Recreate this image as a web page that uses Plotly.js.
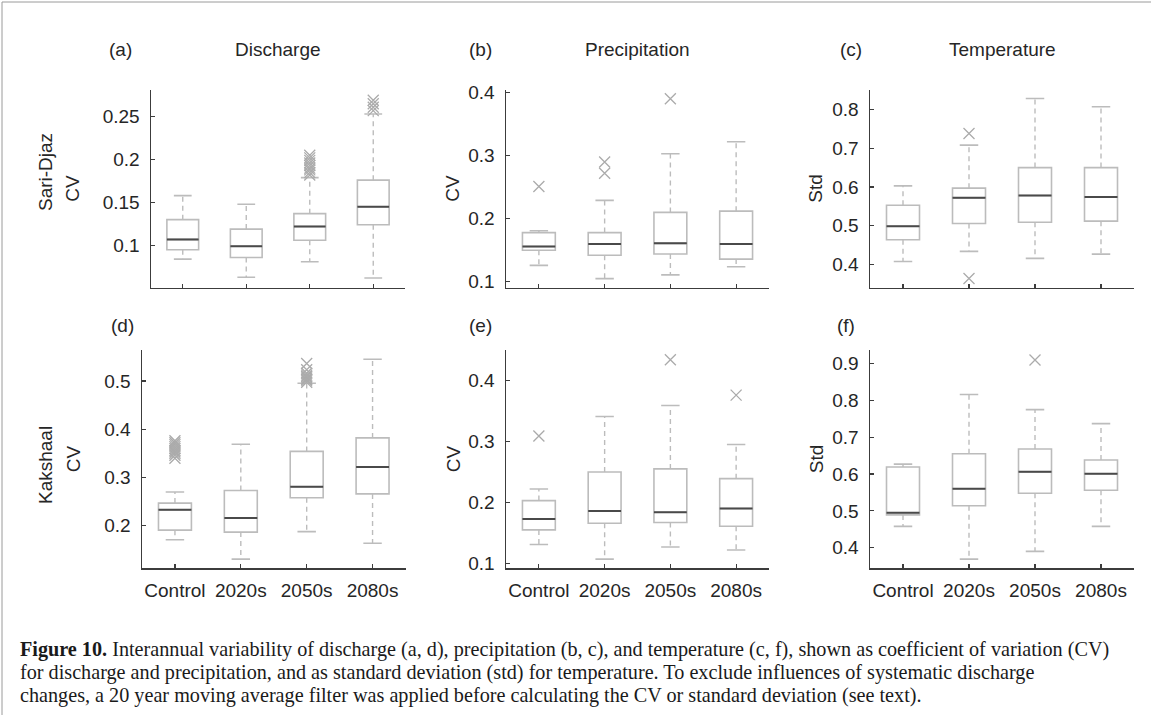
<!DOCTYPE html>
<html>
<head>
<meta charset="utf-8">
<script src="https://cdn.plot.ly/plotly-3.0.1.min.js"></script>
<style>
html,body{margin:0;padding:0;background:#fff;}
#chart{width:1153px;height:715px;}
</style>
</head>
<body>
<div id="chart"></div>
<script>
// ---------- DATA ----------
const categories = ['Control', '2020s', '2050s', '2080s'];

// (a) Discharge, Sari-Djaz (CV)
const aLower  = [0.084, 0.063, 0.081, 0.062];
const aQ1     = [0.095, 0.086, 0.106, 0.124];
const aMedian = [0.107, 0.099, 0.122, 0.145];
const aQ3     = [0.130, 0.119, 0.137, 0.176];
const aUpper  = [0.158, 0.148, 0.179, 0.253];
const aOutliers = [[], [], [0.182, 0.185, 0.188, 0.190, 0.193, 0.196, 0.199, 0.202, 0.205], [0.257, 0.261, 0.265, 0.269]];

// (b) Precipitation, Sari-Djaz (CV)
const bLower  = [0.126, 0.105, 0.111, 0.124];
const bQ1     = [0.150, 0.142, 0.144, 0.136];
const bMedian = [0.156, 0.160, 0.161, 0.160];
const bQ3     = [0.178, 0.178, 0.210, 0.212];
const bUpper  = [0.181, 0.229, 0.303, 0.322];
const bOutliers = [[0.251], [0.272, 0.290], [0.390], []];

// (c) Temperature, Sari-Djaz (Std)
const cLower  = [0.408, 0.434, 0.416, 0.427];
const cQ1     = [0.464, 0.506, 0.509, 0.512];
const cMedian = [0.499, 0.572, 0.578, 0.574];
const cQ3     = [0.553, 0.597, 0.650, 0.650];
const cUpper  = [0.603, 0.708, 0.828, 0.807];
const cOutliers = [[], [0.738, 0.364], [], []];

// (d) Discharge, Kakshaal (CV)
const dLower  = [0.171, 0.131, 0.188, 0.164];
const dQ1     = [0.191, 0.187, 0.258, 0.266];
const dMedian = [0.233, 0.216, 0.281, 0.322];
const dQ3     = [0.247, 0.273, 0.354, 0.382];
const dUpper  = [0.270, 0.369, 0.495, 0.545];
const dOutliers = [[0.340, 0.346, 0.350, 0.353, 0.356, 0.360, 0.364, 0.368, 0.372, 0.376], [], [0.497, 0.500, 0.503, 0.506, 0.509, 0.512, 0.516, 0.523, 0.536], []];

// (e) Precipitation, Kakshaal (CV)
const eLower  = [0.131, 0.107, 0.127, 0.122];
const eQ1     = [0.155, 0.166, 0.167, 0.161];
const eMedian = [0.173, 0.186, 0.184, 0.190];
const eQ3     = [0.203, 0.250, 0.255, 0.239];
const eUpper  = [0.222, 0.341, 0.359, 0.295];
const eOutliers = [[0.309], [], [0.434], [0.376]];

// (f) Temperature, Kakshaal (Std)
const fLower  = [0.458, 0.369, 0.390, 0.458];
const fQ1     = [0.489, 0.514, 0.548, 0.556];
const fMedian = [0.495, 0.560, 0.606, 0.601];
const fQ3     = [0.619, 0.655, 0.668, 0.638];
const fUpper  = [0.627, 0.816, 0.775, 0.737];
const fOutliers = [[], [], [0.910], []];

// tick values / labels
const aTicks = [0.1, 0.15, 0.2, 0.25];
const aTickText = ['0.1', '0.15', '0.2', '0.25'];
const bTicks = [0.1, 0.2, 0.3, 0.4];
const bTickText = ['0.1', '0.2', '0.3', '0.4'];
const cTicks = [0.4, 0.5, 0.6, 0.7, 0.8];
const cTickText = ['0.4', '0.5', '0.6', '0.7', '0.8'];
const dTicks = [0.2, 0.3, 0.4, 0.5];
const dTickText = ['0.2', '0.3', '0.4', '0.5'];
const eTicks = [0.1, 0.2, 0.3, 0.4];
const eTickText = ['0.1', '0.2', '0.3', '0.4'];
const fTicks = [0.4, 0.5, 0.6, 0.7, 0.8, 0.9];
const fTickText = ['0.4', '0.5', '0.6', '0.7', '0.8', '0.9'];

const columnTitles = ['Discharge', 'Precipitation', 'Temperature'];
const rowTitles = ['Sari-Djaz', 'Kakshaal'];
const panelLetters = ['(a)', '(b)', '(c)', '(d)', '(e)', '(f)'];
const yTitles = ['CV', 'CV', 'Std', 'CV', 'CV', 'Std'];
const captionLines = [
  '<b>Figure 10.</b> Interannual variability of discharge (a, d), precipitation (b, c), and temperature (c, f), shown as coefficient of variation (CV)',
  'for discharge and precipitation, and as standard deviation (std) for temperature. To exclude influences of systematic discharge',
  'changes, a 20 year moving average filter was applied before calculating the CV or standard deviation (see text).'
];

// ---------- LAYOUT HELPERS ----------
const W = 1153, H = 715;
const px = v => v / W;
const py = v => 1 - v / H;

const panels = [
  {lo: aLower, q1: aQ1, med: aMedian, q3: aQ3, up: aUpper, out: aOutliers, ticks: aTicks, tt: aTickText, range: [0.051, 0.281], x: [151, 405], y: [90, 287.5]},
  {lo: bLower, q1: bQ1, med: bMedian, q3: bQ3, up: bUpper, out: bOutliers, ticks: bTicks, tt: bTickText, range: [0.091, 0.404], x: [506, 769], y: [90, 287.5]},
  {lo: cLower, q1: cQ1, med: cMedian, q3: cQ3, up: cUpper, out: cOutliers, ticks: cTicks, tt: cTickText, range: [0.341, 0.850], x: [870, 1134], y: [90, 287.5]},
  {lo: dLower, q1: dQ1, med: dMedian, q3: dQ3, up: dUpper, out: dOutliers, ticks: dTicks, tt: dTickText, range: [0.112, 0.564], x: [142, 405.5], y: [350, 568.3]},
  {lo: eLower, q1: eQ1, med: eMedian, q3: eQ3, up: eUpper, out: eOutliers, ticks: eTicks, tt: eTickText, range: [0.092, 0.450], x: [506, 769], y: [350, 568.3]},
  {lo: fLower, q1: fQ1, med: fMedian, q3: fQ3, up: fUpper, out: fOutliers, ticks: fTicks, tt: fTickText, range: [0.344, 0.937], x: [870, 1134], y: [350, 568.3]}
];

const BOX_COLOR = '#bcbcbc';
const MED_COLOR = '#4a4a4a';
const OUT_COLOR = '#ababab';
const AXIS_COLOR = '#3c3c3c';
const TEXT_COLOR = '#262626';
const FONT = 'Liberation Sans, Arial, sans-serif';
const HALF_BOX = 0.25, HALF_CAP = 0.14;
const catPos = categories.map((c, i) => i + 1);

const traces = [];
const layout = {
  width: W, height: H,
  margin: {l: 0, r: 0, t: 0, b: 0},
  paper_bgcolor: '#ffffff',
  plot_bgcolor: 'rgba(0,0,0,0)',
  showlegend: false,
  hovermode: false,
  font: {family: FONT, color: TEXT_COLOR, size: 19},
  annotations: [],
  shapes: []
};

panels.forEach((p, k) => {
  const sfx = k === 0 ? '' : String(k + 1);
  const xa = 'x' + sfx, ya = 'y' + sfx;
  const rowIdx = k < 3 ? 0 : 1;

  // boxes (quartiles) drawn by the box trace
  traces.push({
    type: 'box', xaxis: xa, yaxis: ya,
    x: catPos, q1: p.q1, median: p.med, q3: p.q3,
    lowerfence: p.q1, upperfence: p.q3,
    width: 2 * HALF_BOX, whiskerwidth: 0, boxpoints: false,
    fillcolor: 'rgba(255,255,255,0)',
    line: {color: BOX_COLOR, width: 1.6}
  });

  // dashed whiskers
  const wx = [], wy = [];
  catPos.forEach((c, i) => {
    wx.push(c, c, null, c, c, null);
    wy.push(p.q3[i], p.up[i], null, p.q1[i], p.lo[i], null);
  });
  traces.push({type: 'scatter', mode: 'lines', xaxis: xa, yaxis: ya, x: wx, y: wy,
    line: {color: BOX_COLOR, width: 1.4, dash: '5px,4px'}, connectgaps: false});

  // whisker caps
  const cx = [], cy = [];
  catPos.forEach((c, i) => {
    cx.push(c - HALF_CAP, c + HALF_CAP, null, c - HALF_CAP, c + HALF_CAP, null);
    cy.push(p.up[i], p.up[i], null, p.lo[i], p.lo[i], null);
  });
  traces.push({type: 'scatter', mode: 'lines', xaxis: xa, yaxis: ya, x: cx, y: cy,
    line: {color: BOX_COLOR, width: 1.6}, connectgaps: false});

  // medians
  const mx = [], my = [];
  catPos.forEach((c, i) => {
    mx.push(c - HALF_BOX, c + HALF_BOX, null);
    my.push(p.med[i], p.med[i], null);
  });
  traces.push({type: 'scatter', mode: 'lines', xaxis: xa, yaxis: ya, x: mx, y: my,
    line: {color: MED_COLOR, width: 2}, connectgaps: false});

  // outliers
  const ox = [], oy = [];
  p.out.forEach((arr, i) => arr.forEach(v => { ox.push(catPos[i]); oy.push(v); }));
  traces.push({type: 'scatter', mode: 'markers', xaxis: xa, yaxis: ya, x: ox, y: oy,
    marker: {symbol: 'x-thin-open', size: 11, color: OUT_COLOR, line: {color: OUT_COLOR, width: 1.3}}});

  const axCommon = {
    showline: true, linecolor: AXIS_COLOR, linewidth: 1.5,
    ticks: 'inside', ticklen: 4, tickwidth: 1.2, tickcolor: AXIS_COLOR,
    showgrid: false, zeroline: false, fixedrange: true,
    tickfont: {family: FONT, size: 19, color: TEXT_COLOR}
  };
  layout['xaxis' + sfx] = Object.assign({}, axCommon, {
    domain: [px(p.x[0]), px(p.x[1])], anchor: ya,
    range: [0.5, 4.5], tickvals: catPos, ticktext: categories,
    showticklabels: rowIdx === 1,
    ticklabelstandoff: 4
  });
  layout['yaxis' + sfx] = Object.assign({}, axCommon, {
    domain: [py(p.y[1]), py(p.y[0])], anchor: xa,
    range: p.range, tickvals: p.ticks, ticktext: p.tt,
    ticklabelstandoff: 6
  });

  // panel letter
  const letterY = rowIdx === 0 ? 50 : 325;
  const letterX = [121, 480, 851, 122, 480, 846][k];
  layout.annotations.push({xref: 'paper', yref: 'paper', x: px(letterX), y: py(letterY),
    xanchor: 'center', yanchor: 'middle', showarrow: false, text: panelLetters[k],
    font: {family: FONT, size: 19, color: TEXT_COLOR}});

  // y-axis title
  const yTitleX = [73, 453, 816, 73, 453, 816][k];
  layout.annotations.push({xref: 'paper', yref: 'paper', x: px(yTitleX), y: py((p.y[0] + p.y[1]) / 2),
    xanchor: 'center', yanchor: 'middle', showarrow: false, textangle: -90, text: yTitles[k],
    font: {family: FONT, size: 19, color: TEXT_COLOR}});

  // column titles
  if (rowIdx === 0) {
    layout.annotations.push({xref: 'paper', yref: 'paper', x: px((p.x[0] + p.x[1]) / 2), y: py(50),
      xanchor: 'center', yanchor: 'middle', showarrow: false, text: columnTitles[k],
      font: {family: FONT, size: 19, color: TEXT_COLOR}});
  }
});

// row titles
[172, 465].forEach((yy, r) => {
  layout.annotations.push({xref: 'paper', yref: 'paper', x: px(45), y: py(yy),
    xanchor: 'center', yanchor: 'middle', showarrow: false, textangle: -90, text: rowTitles[r],
    font: {family: FONT, size: 19, color: TEXT_COLOR}});
});

// caption
[649, 672, 695].forEach((yy, i) => {
  layout.annotations.push({xref: 'paper', yref: 'paper', x: px(18), y: py(yy),
    xanchor: 'left', yanchor: 'middle', showarrow: false, text: captionLines[i],
    font: {family: 'Liberation Serif, Times New Roman, serif', size: 20.2, color: '#1a1a1a'}});
});

// frame
layout.shapes.push(
  {type: 'line', xref: 'paper', yref: 'paper', x0: px(2), x1: px(2), y0: 0, y1: py(2), line: {color: '#9a9a9a', width: 1}},
  {type: 'line', xref: 'paper', yref: 'paper', x0: px(2), x1: px(1151), y0: py(2), y1: py(2), line: {color: '#9a9a9a', width: 1}}
);

Plotly.newPlot('chart', traces, layout, {staticPlot: true, displayModeBar: false});
</script>
</body>
</html>
